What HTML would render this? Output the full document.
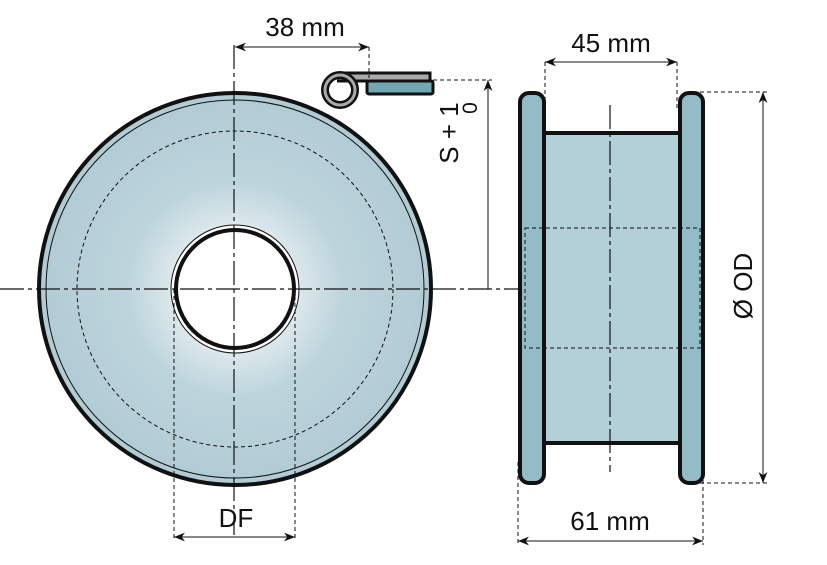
<!DOCTYPE html>
<html><head><style>body{margin:0;background:#fff}svg{display:block}text{font-family:"Liberation Sans","DejaVu Sans",sans-serif;fill:#111}</style></head>
<body>
<svg width="827" height="565" viewBox="0 0 827 565" xmlns="http://www.w3.org/2000/svg">
<defs>
<radialGradient id="g" cx="235" cy="289" r="196" gradientUnits="userSpaceOnUse">
<stop offset="0.3" stop-color="#dfeaee"/><stop offset="0.55" stop-color="#bdd4dc"/><stop offset="1" stop-color="#b1cbd4"/></radialGradient>
<marker id="a" viewBox="0 0 10 10" refX="10" refY="5" markerWidth="11" markerHeight="11" orient="auto-start-reverse" markerUnits="userSpaceOnUse"><path d="M0,1 L10,5 L0,9 L3,5z" fill="#111"/></marker>
</defs>
<circle cx="235" cy="289" r="196" fill="url(#g)" stroke="#111" stroke-width="4"/>
<circle cx="235" cy="289" r="189" fill="none" stroke="#111" stroke-width="1"/>
<circle cx="235" cy="289" r="158" fill="none" stroke="#111" stroke-width="1" stroke-dasharray="4,3"/>
<circle cx="235" cy="289" r="64" fill="#fff" stroke="#111" stroke-width="1"/>
<circle cx="235" cy="289" r="59" fill="#fff" stroke="#111" stroke-width="4"/>
<line x1="0" y1="289" x2="520" y2="289" stroke="#111" stroke-width="1.2" stroke-dasharray="24,4,4,4"/>
<line x1="234" y1="45" x2="234" y2="535" stroke="#111" stroke-width="1.2" stroke-dasharray="24,4,4,4"/>
<line x1="174" y1="289" x2="174" y2="540" stroke="#111" stroke-dasharray="4,3"/>
<line x1="295" y1="289" x2="295" y2="540" stroke="#111" stroke-dasharray="4,3"/>
<path d="M337,73 L430,73 L430,81 L337,81" fill="#aaa" stroke="#111" stroke-width="3"/>
<rect x="367" y="81" width="66" height="13" rx="2" fill="#6fa7b4" stroke="#111" stroke-width="3"/>
<circle cx="340" cy="90" r="15" fill="none" stroke="#111" stroke-width="8"/>
<circle cx="340" cy="90" r="15" fill="none" stroke="#aaa" stroke-width="3"/>
<line x1="369" y1="47" x2="369" y2="78" stroke="#111" stroke-dasharray="4,3"/>
<line x1="235" y1="47" x2="369" y2="47" stroke="#111" marker-start="url(#a)" marker-end="url(#a)"/>
<text x="305" y="36" font-size="26" text-anchor="middle">38 mm</text>
<line x1="433" y1="80" x2="492" y2="80" stroke="#111" stroke-dasharray="4,3"/>
<line x1="488" y1="80" x2="488" y2="289" stroke="#111" marker-start="url(#a)"/>
<g transform="translate(458,133) rotate(-90)"><text x="0" y="0" font-size="26" text-anchor="middle">S + 1</text><text x="25" y="19" font-size="21" text-anchor="middle">0</text></g>
<line x1="174" y1="537" x2="295" y2="537" stroke="#111" marker-start="url(#a)" marker-end="url(#a)"/>
<text x="236" y="527" font-size="26" text-anchor="middle">DF</text>
<rect x="544" y="133" width="136" height="310" fill="#b3cfd8" stroke="#111" stroke-width="4"/>
<rect x="520" y="93" width="24" height="390" rx="9" fill="#93bcc6" stroke="#111" stroke-width="4"/>
<rect x="680" y="93" width="23" height="390" rx="9" fill="#93bcc6" stroke="#111" stroke-width="4"/>
<rect x="525" y="228" width="175" height="120" fill="none" stroke="#111" stroke-dasharray="4,3"/>
<line x1="610" y1="105" x2="610" y2="472" stroke="#111" stroke-width="1.2" stroke-dasharray="24,4,4,4"/>
<line x1="545" y1="62" x2="545" y2="110" stroke="#111" stroke-dasharray="4,3"/>
<line x1="677" y1="62" x2="677" y2="110" stroke="#111" stroke-dasharray="4,3"/>
<line x1="545" y1="62" x2="677" y2="62" stroke="#111" marker-start="url(#a)" marker-end="url(#a)"/>
<text x="611" y="52" font-size="26" text-anchor="middle">45 mm</text>
<line x1="700" y1="92" x2="767" y2="92" stroke="#111" stroke-dasharray="4,3"/>
<line x1="700" y1="483" x2="767" y2="483" stroke="#111" stroke-dasharray="4,3"/>
<line x1="763" y1="92" x2="763" y2="483" stroke="#111" marker-start="url(#a)" marker-end="url(#a)"/>
<text transform="translate(752,286) rotate(-90)" font-size="26" text-anchor="middle">Ø OD</text>
<line x1="518" y1="462" x2="518" y2="545" stroke="#111" stroke-dasharray="4,3"/>
<line x1="703" y1="480" x2="703" y2="545" stroke="#111" stroke-dasharray="4,3"/>
<line x1="518" y1="541" x2="703" y2="541" stroke="#111" marker-start="url(#a)" marker-end="url(#a)"/>
<text x="610" y="530" font-size="26" text-anchor="middle">61 mm</text>
</svg>
</body></html>
